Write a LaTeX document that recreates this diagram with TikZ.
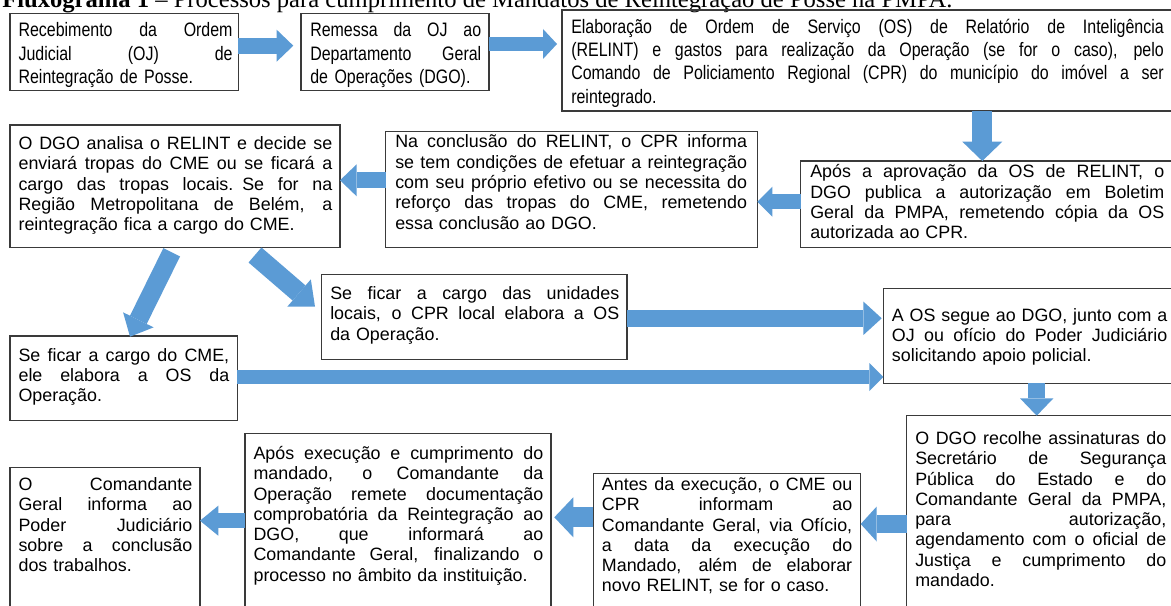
\documentclass[tikz,border=0pt]{standalone}
\usepackage{fontspec}
\setmainfont{Liberation Sans}
\newfontfamily\narrowfont[FakeStretch=0.82]{Liberation Sans}
\newfontfamily\titlefont{Liberation Serif}
\usetikzlibrary{arrows.meta,fit}
\definecolor{arrowblue}{HTML}{5B9BD5}
\definecolor{boxline}{HTML}{3A3A3A}
\newcommand{\J}[1]{\leavevmode\hbox to \hsize{\spaceskip=\fontdimen2\font plus 1fil\relax #1}}
\tikzset{
  box/.style={draw=boxline, line width=0.8pt, inner sep=0pt},
  txt/.style={inner sep=0pt, anchor=base west, align=left, font=\fontsize{13.4pt}{15.2pt}\selectfont},
  txtn/.style={txt, font=\narrowfont\fontsize{14.6pt}{17.5pt}\selectfont},
  barrow/.style n args={3}{draw=arrowblue, line width=#1, line cap=butt, -{Triangle[width=#2, length=#3, line width=0pt]}}
}
\begin{document}
\begin{tikzpicture}[x=0.75pt,y=-0.75pt]
\useasboundingbox (0,0) rectangle (1171,606);
\fill[white] (0,0) rectangle (1171,606);
\clip (0,0) rectangle (1171,606);

% title (cut at top)
\node[anchor=base west, inner sep=0pt, font=\titlefont\fontsize{18.45pt}{20pt}\selectfont] (title) at (2,7.5)
  {\textbf{Fluxograma 1} – Processos para cumprimento de Mandatos de Reintegração de Posse na PMPA.};

% boxes
\node[box, fit={(10,13.3) (238.3,90.7)}] (b1) {};
\node[box, fit={(301,13.3) (489,90.7)}] (b2) {};
\node[box, fit={(562,10) (1185,111)}] (b3) {};
\node[box, fit={(800.7,161) (1185,247.7)}] (b4) {};
\node[box, fit={(385.7,131.7) (757.3,247.7)}] (b5) {};
\node[box, fit={(10,125) (340,247.5)}] (b6) {};
\node[box, fit={(321.7,274.5) (627,359.3)}] (b7) {};
\node[box, fit={(10,336) (237.3,420.7)}] (b8) {};
\node[box, fit={(883.3,288.3) (1185,383.3)}] (b9) {};
\node[box, fit={(906.7,415.7) (1185,625)}] (b10) {};
\node[box, fit={(593.3,473.3) (860.7,625)}] (b11) {};
\node[box, fit={(245,433.3) (551,625)}] (b12) {};
\node[box, fit={(10,467.7) (200,625)}] (b13) {};

% texts
\node[txtn, text width=160.5pt] (t1) at (18.3,36.9)
  {\J{Recebimento da Ordem}\\ \J{Judicial (OJ) de}\\ Reintegração de Posse.};
\node[txtn, text width=128.25pt] (t2) at (310,36.9)
  {\J{Remessa da OJ ao}\\ \J{Departamento Geral}\\ de Operações (DGO).};
\node[txtn, text width=444.4pt] (t3) at (571,33.2)
  {\J{Elaboração de Ordem de Serviço (OS) de Relatório de Inteligência}\\
   \J{(RELINT) e gastos para realização da Operação (se for o caso), pelo}\\
   \J{Comando de Policiamento Regional (CPR) do município do imóvel a ser}\\
   reintegrado.};
\node[txt, text width=265.5pt] (t4) at (810,178)
  {\J{Após a aprovação da OS de RELINT, o}\\ \J{DGO publica a autorização em Boletim}\\
   \J{Geral da PMPA, remetendo cópia da OS}\\ autorizada ao CPR.};
\node[txt, text width=263.8pt] (t5) at (395,148)
  {\J{Na conclusão do RELINT, o CPR informa}\\ \J{se tem condições de efetuar a reintegração}\\
   \J{com seu próprio efetivo ou se necessita do}\\ \J{reforço das tropas do CME, remetendo}\\
   essa conclusão ao DGO.};
\node[txt, text width=235.3pt] (t6) at (18.3,149.6)
  {\J{O DGO analisa o RELINT e decide se}\\ \J{enviará tropas do CME ou se ficará a}\\
   \J{cargo das tropas locais. Se for na}\\ \J{Região Metropolitana de Belém, a}\\
   reintegração fica a cargo do CME.};
\node[txt, text width=216.75pt] (t7) at (330,299.6)
  {\J{Se ficar a cargo das unidades}\\ \J{locais, o CPR local elabora a OS}\\ da Operação.};
\node[txt, text width=158pt] (t8) at (18.3,361.3)
  {\J{Se ficar a cargo do CME,}\\ \J{ele elabora a OS da}\\ Operação.};
\node[txt, text width=206.5pt] (t9) at (891.7,321.3)
  {\J{A OS segue ao DGO, junto com a}\\ \J{OJ ou ofício do Poder Judiciário}\\ solicitando apoio policial.};
\node[txt, text width=188.25pt] (t10) at (915,444.6)
  {\J{O DGO recolhe assinaturas do}\\ \J{Secretário de Segurança}\\ \J{Pública do Estado e do}\\
   \J{Comandante Geral da PMPA,}\\ \J{para autorização,}\\ \J{agendamento com o oficial de}\\
   \J{Justiça e cumprimento do}\\ mandado.};
\node[txt, text width=187.7pt] (t11) at (601.7,490.6)
  {\J{Antes da execução, o CME ou}\\ \J{CPR informam ao}\\ \J{Comandante Geral, via Ofício,}\\
   \J{a data da execução do}\\ \J{Mandado, além de elaborar}\\ novo RELINT, se for o caso.};
\node[txt, text width=217.3pt] (t12) at (253.3,459.6)
  {\J{Após execução e cumprimento do}\\ \J{mandado, o Comandante da}\\ \J{Operação remete documentação}\\
   \J{comprobatória da Reintegração ao}\\ \J{DGO, que informará ao}\\ \J{Comandante Geral, finalizando o}\\
   processo no âmbito da instituição.};
\node[txt, text width=130.3pt] (t13) at (18.3,490.6)
  {\J{O Comandante}\\ \J{Geral informa ao}\\ \J{Poder Judiciário}\\ \J{sobre a conclusão}\\ dos trabalhos.};

% arrow end points
\coordinate (a1s) at (238.3,45.7);  \coordinate (a1e) at (293.3,45.7);
\coordinate (a2s) at (489,44);      \coordinate (a2e) at (557,44);
\coordinate (a3s) at (982.3,111);   \coordinate (a3e) at (982.3,161);
\coordinate (a4s) at (800.7,201.7); \coordinate (a4e) at (757.3,201.7);
\coordinate (a5s) at (385.7,180.3); \coordinate (a5e) at (340,180.3);
\coordinate (a6s) at (171.7,252.3); \coordinate (a6e) at (130,336.7);
\coordinate (a7s) at (255,255);     \coordinate (a7e) at (315,306.7);
\coordinate (a8s) at (627,318.3);   \coordinate (a8e) at (881.7,318.3);
\coordinate (a9s) at (237.3,377);   \coordinate (a9e) at (883.3,377);
\coordinate (a10s) at (1036.7,383.3); \coordinate (a10e) at (1036.7,415.7);
\coordinate (a11s) at (906.7,524);  \coordinate (a11e) at (860.7,524);
\coordinate (a12s) at (593.3,517.3); \coordinate (a12e) at (554.3,517.3);
\coordinate (a13s) at (245,520.7);  \coordinate (a13e) at (200,520.7);

% block arrows
\draw[barrow={12pt}{24pt}{12.5pt}] (a1s) -- (a1e);
\draw[barrow={10.5pt}{22.5pt}{10.5pt}] (a2s) -- (a2e);
\draw[barrow={15pt}{30pt}{14.5pt}] (a3s) -- (a3e);
\draw[barrow={11.25pt}{22.5pt}{11.25pt}] (a4s) -- (a4e);
\draw[barrow={11.7pt}{24pt}{12.5pt}] (a5s) -- (a5e);
\draw[barrow={14pt}{25.5pt}{14.1pt}] (a6s) -- (a6e);
\draw[barrow={14.85pt}{27pt}{15.75pt}] (a7s) -- (a7e);
\draw[barrow={12.45pt}{25pt}{13.7pt}] (a8s) -- (a8e);
\draw[barrow={10.5pt}{21pt}{10.5pt}] (a9s) -- (a9e);
\draw[barrow={12.45pt}{25pt}{13pt}] (a10s) -- (a10e);
\draw[barrow={13.5pt}{26.25pt}{12pt}] (a11s) -- (a11e);
\draw[barrow={15pt}{30pt}{14.25pt}] (a12s) -- (a12e);
\draw[barrow={11.25pt}{22.5pt}{13.7pt}] (a13s) -- (a13e);
\end{tikzpicture}
\end{document}
